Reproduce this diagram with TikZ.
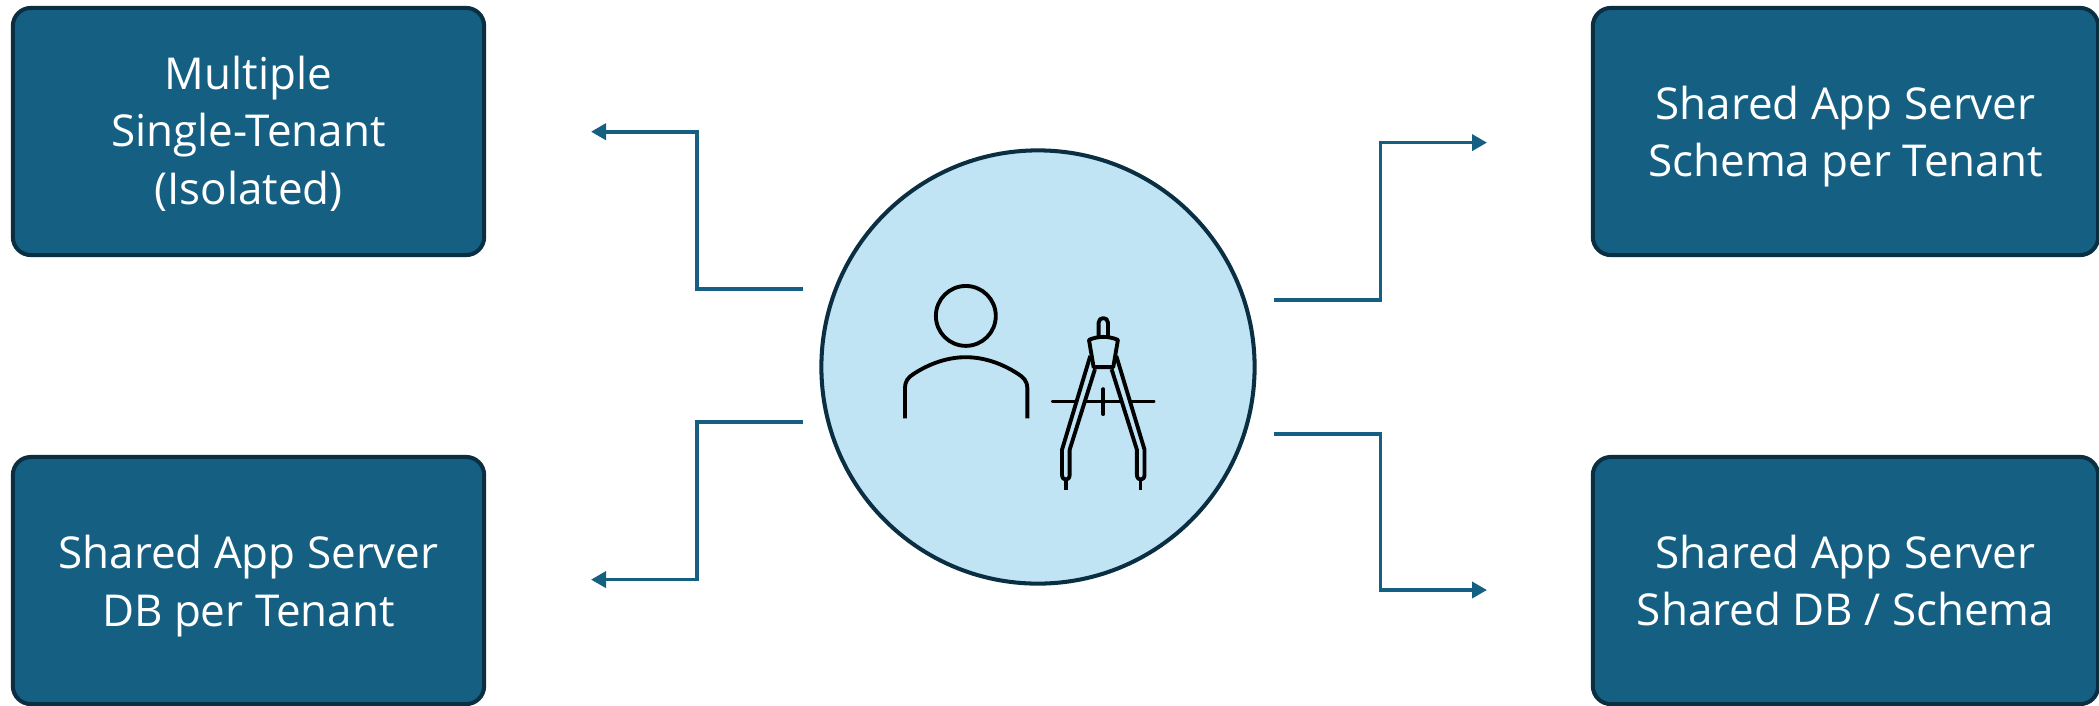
\documentclass[tikz,border=0pt]{standalone}
\usepackage{fontspec}
\setmainfont{Open Sans}
\usepackage{tikz}
\usetikzlibrary{arrows.meta}
\definecolor{boxfill}{HTML}{156082}
\definecolor{boxline}{HTML}{0B2F42}
\definecolor{hubfill}{HTML}{C1E4F5}
\newcommand{\liftline}[1]{\rule{0pt}{#1}}

\begin{document}
\begin{tikzpicture}[
    x=0.01cm, y=-0.01cm,
    tenant/.style={draw=boxline, fill=boxfill, line width=1.15pt, rounded corners=0.18cm,
      text=white, align=center, font=\fontsize{12.5}{16.4}\selectfont,
      execute at end node={\rule[-3.6pt]{0pt}{3.6pt}},
      minimum height=2.47cm, inner sep=0pt},
    hub/.style={circle, draw=boxline, fill=hubfill, line width=1.15pt,
      minimum size=4.33cm, inner sep=0pt},
    link/.style={draw=boxfill, line width=1.05pt, -{Triangle[length=0.15cm,width=0.16cm]}},
    icon/.style={draw=black, line width=1.1pt, line join=round},
  ]
  \useasboundingbox (0,0) rectangle (2099,705);

  % the four tenancy models
  \node[tenant, minimum width=4.71cm] (isolated) at (248.5,131.5) {\liftline{12.4pt}Multiple\\Single-Tenant\\(Isolated)};
  \node[tenant, minimum width=4.71cm] (dbtenant) at (248.5,580.5) {\liftline{13.4pt}Shared App Server\\DB per Tenant};
  \node[tenant, minimum width=5.05cm] (schematenant) at (1845.5,131.5) {\liftline{13pt}Shared App Server\\Schema per Tenant};
  \node[tenant, minimum width=5.05cm] (shareddb) at (1845.5,580.5) {\liftline{13pt}Shared App Server\\Shared DB / Schema};

  % architect in the middle
  \node[hub] (architect) at (1038,367) {};

  % free ends of the connectors
  \coordinate (isolatedfrom) at (803,288.7);
  \coordinate (isolatedbend) at (697,200);
  \coordinate (isolatedto) at (591,131.7);
  \coordinate (dbfrom) at (803,421.7);
  \coordinate (dbbend) at (697,500);
  \coordinate (dbto) at (591,579.6);
  \coordinate (schemafrom) at (1274.4,300);
  \coordinate (schemabend) at (1380.6,200);
  \coordinate (schemato) at (1487,142.6);
  \coordinate (sharedfrom) at (1274.4,433.7);
  \coordinate (sharedbend) at (1380.6,500);
  \coordinate (sharedto) at (1487,590);

  \draw[link] (isolatedfrom) -| (isolatedbend) |- (isolatedto);
  \draw[link] (dbfrom) -| (dbbend) |- (dbto);
  \draw[link] (schemafrom) -| (schemabend) |- (schemato);
  \draw[link] (sharedfrom) -| (sharedbend) |- (sharedto);

  \begin{scope}[shift={(860,260)}, x=0.003333cm, y=-0.003333cm]
    % person
    \draw[icon] (318,168) circle (90);
    \draw[icon] (135,476) -- (135,385) .. controls (135,365) and (145,352) .. (160,343)
      .. controls (210,310) and (265,292) .. (318,292)
      .. controls (371,292) and (426,310) .. (476,343)
      .. controls (491,352) and (503,365) .. (503,385) -- (503,476);
    % compass head
    \draw[icon] (717,230) -- (717,188) .. controls (717,170) and (745,170) .. (745,188) -- (745,230);
    \draw[icon] (688,240) .. controls (715,228) and (747,228) .. (775,240)
      -- (761,322) -- (702,322) -- cycle;
    % compass legs
    \draw[icon] (692,288) -- (607,570) -- (607,645) .. controls (607,665) and (630,665) .. (630,645)
      -- (630,570) -- (706,328);
    \draw[icon] (770,288) -- (855,570) -- (855,645) .. controls (855,665) and (832,665) .. (832,645)
      -- (832,570) -- (756,328);
    \draw[icon] (618,660) -- (618,691);
    \draw[icon] (843,660) -- (843,691);
    % scale mark
    \draw[icon, line cap=round] (580,425) -- (650,425);
    \draw[icon] (678,425) -- (784,425);
    \draw[icon, line cap=round] (812,425) -- (882,425);
    \draw[icon, line cap=round] (731,388) -- (731,463);
  \end{scope}
\end{tikzpicture}
\end{document}
